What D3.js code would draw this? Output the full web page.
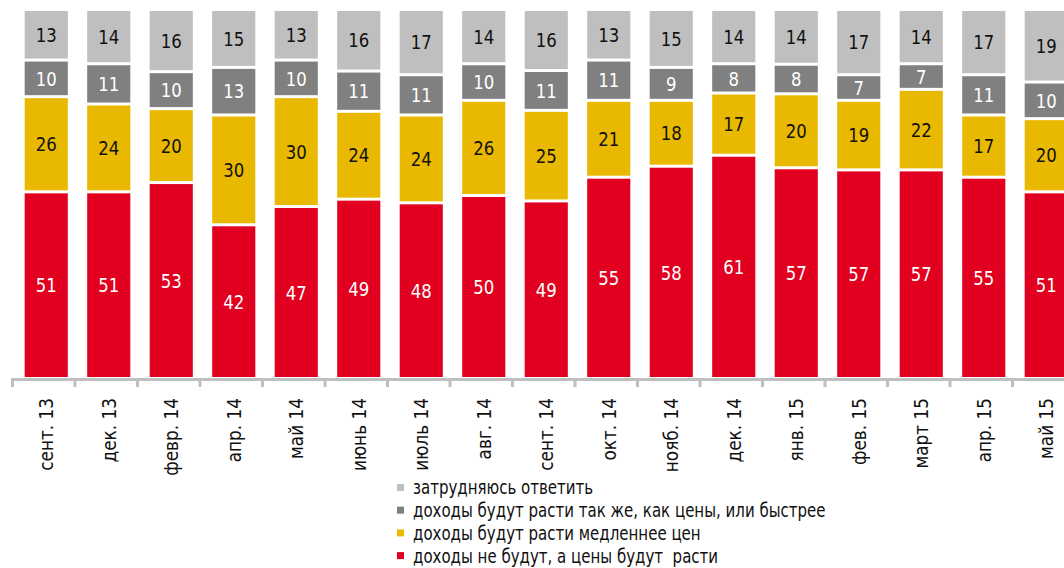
<!DOCTYPE html>
<html>
<head>
<meta charset="utf-8">
<script src="https://cdn.jsdelivr.net/npm/d3@7"></script>
<style>
  body { margin: 0; background: #fff; }
  svg { display: block; font-family: "Liberation Sans Narrow", "DejaVu Sans Condensed", sans-serif; }
</style>
</head>
<body>
<svg id="chart" width="1064" height="568"></svg>
<script>
// периоды опроса
const months = ['сент. 13', 'дек. 13', 'февр. 14', 'апр. 14', 'май 14', 'июнь 14', 'июль 14', 'авг. 14',
    'сент. 14', 'окт. 14', 'нояб. 14', 'дек. 14', 'янв. 15', 'фев. 15', 'март 15', 'апр. 15', 'май 15'];

// ответы, %
const notGrow = [51, 51, 53, 42, 47, 49, 48, 50, 49, 55, 58, 61, 57, 57, 57, 55, 51];
const slower = [26, 24, 20, 30, 30, 24, 24, 26, 25, 21, 18, 17, 20, 19, 22, 17, 20];
const sameOrFaster = [10, 11, 10, 13, 10, 11, 11, 10, 11, 11, 9, 8, 8, 7, 7, 11, 10];
const hardToSay = [13, 14, 16, 15, 13, 16, 17, 14, 16, 13, 15, 14, 14, 17, 14, 17, 19];

const seriesKeys = ['notGrow', 'slower', 'sameOrFaster', 'hardToSay'];
const seriesNames = {
    hardToSay: 'затрудняюсь ответить',
    sameOrFaster: 'доходы будут расти так же, как цены, или быстрее',
    slower: 'доходы будут расти медленнее цен',
    notGrow: 'доходы не будут, а цены будут  расти'
};
const colors = { notGrow: '#e10020', slower: '#e9b800', sameOrFaster: '#808080', hardToSay: '#bfbfbf' };
const labelColors = { notGrow: '#fff', slower: '#111', sameOrFaster: '#fff', hardToSay: '#111' };

const table = months.map((m, i) => ({
    month: m,
    notGrow: notGrow[i],
    slower: slower[i],
    sameOrFaster: sameOrFaster[i],
    hardToSay: hardToSay[i]
}));

const svg = d3.select('#chart');

const x = d3.scaleBand()
    .domain(months)
    .range([15, 15 + 17 * 62.5])
    .paddingInner(0.31)
    .paddingOuter(0.155);

// шкала для засечек оси (границы категорий)
const xAxisBand = d3.scaleBand()
    .domain(months)
    .range([12.5, 12.5 + 17 * 62.5]);

const y = d3.scaleLinear().domain([0, 1]).range([377, 11]);

const stack = d3.stack().keys(seriesKeys).offset(d3.stackOffsetExpand);
const stacked = stack(table);

const gap = 3;
const isTop = (d) => d[1] > 0.999;

const layers = svg.selectAll('g.layer')
    .data(stacked)
    .enter()
    .append('g')
    .attr('class', 'layer')
    .attr('fill', (d) => colors[d.key]);

layers.selectAll('rect')
    .data((d) => d)
    .enter()
    .append('rect')
    .attr('x', (d) => x(d.data.month))
    .attr('width', x.bandwidth())
    .attr('y', (d) => y(d[1]) + (isTop(d) ? 0 : gap))
    .attr('height', (d) => y(d[0]) - y(d[1]) - (isTop(d) ? 0 : gap));

// подписи значений
layers.each(function (layer) {
    d3.select(this).selectAll('text')
        .data(layer)
        .enter()
        .append('text')
        .attr('transform', (d) => {
            const cx = x(d.data.month) + x.bandwidth() / 2;
            const cy = (y(d[0]) + y(d[1]) + (isTop(d) ? 0 : gap)) / 2;
            return `translate(${cx},${cy}) scale(0.92,1)`;
        })
        .attr('dy', '0.36em')
        .attr('text-anchor', 'middle')
        .attr('font-size', 20)
        .attr('fill', labelColors[layer.key])
        .text((d) => d.data[layer.key]);
});

// ось X
const axis = svg.append('g').attr('stroke', '#bfbfbf').attr('stroke-width', 3);
axis.append('line')
    .attr('x1', 12.5)
    .attr('x2', 1064)
    .attr('y1', 379.5)
    .attr('y2', 379.5);
axis.selectAll('line.tick')
    .data(months)
    .enter()
    .append('line')
    .attr('class', 'tick')
    .attr('x1', (d) => xAxisBand(d))
    .attr('x2', (d) => xAxisBand(d))
    .attr('y1', 378)
    .attr('y2', 387);

svg.append('g')
    .selectAll('text')
    .data(months)
    .enter()
    .append('text')
    .attr('transform', (d) => `translate(${x(d) + x.bandwidth() / 2},398) rotate(-90) scale(0.94,1)`)
    .attr('dy', '0.35em')
    .attr('text-anchor', 'end')
    .attr('font-size', 20)
    .attr('fill', '#111')
    .text((d) => d);

// легенда
const legendKeys = ['hardToSay', 'sameOrFaster', 'slower', 'notGrow'];
const legend = svg.append('g')
    .selectAll('g')
    .data(legendKeys)
    .enter()
    .append('g')
    .attr('transform', (d, i) => `translate(397,${488 + i * 22.7})`);

legend.append('rect')
    .attr('x', 0)
    .attr('y', -4)
    .attr('width', 7)
    .attr('height', 7)
    .attr('fill', (d) => colors[d]);

legend.append('text')
    .attr('transform', 'translate(16,0) scale(0.835,1)')
    .attr('dy', '0.32em')
    .attr('font-size', 20)
    .attr('fill', '#111')
    .style('white-space', 'pre')
    .text((d) => seriesNames[d]);
</script>
</body>
</html>
